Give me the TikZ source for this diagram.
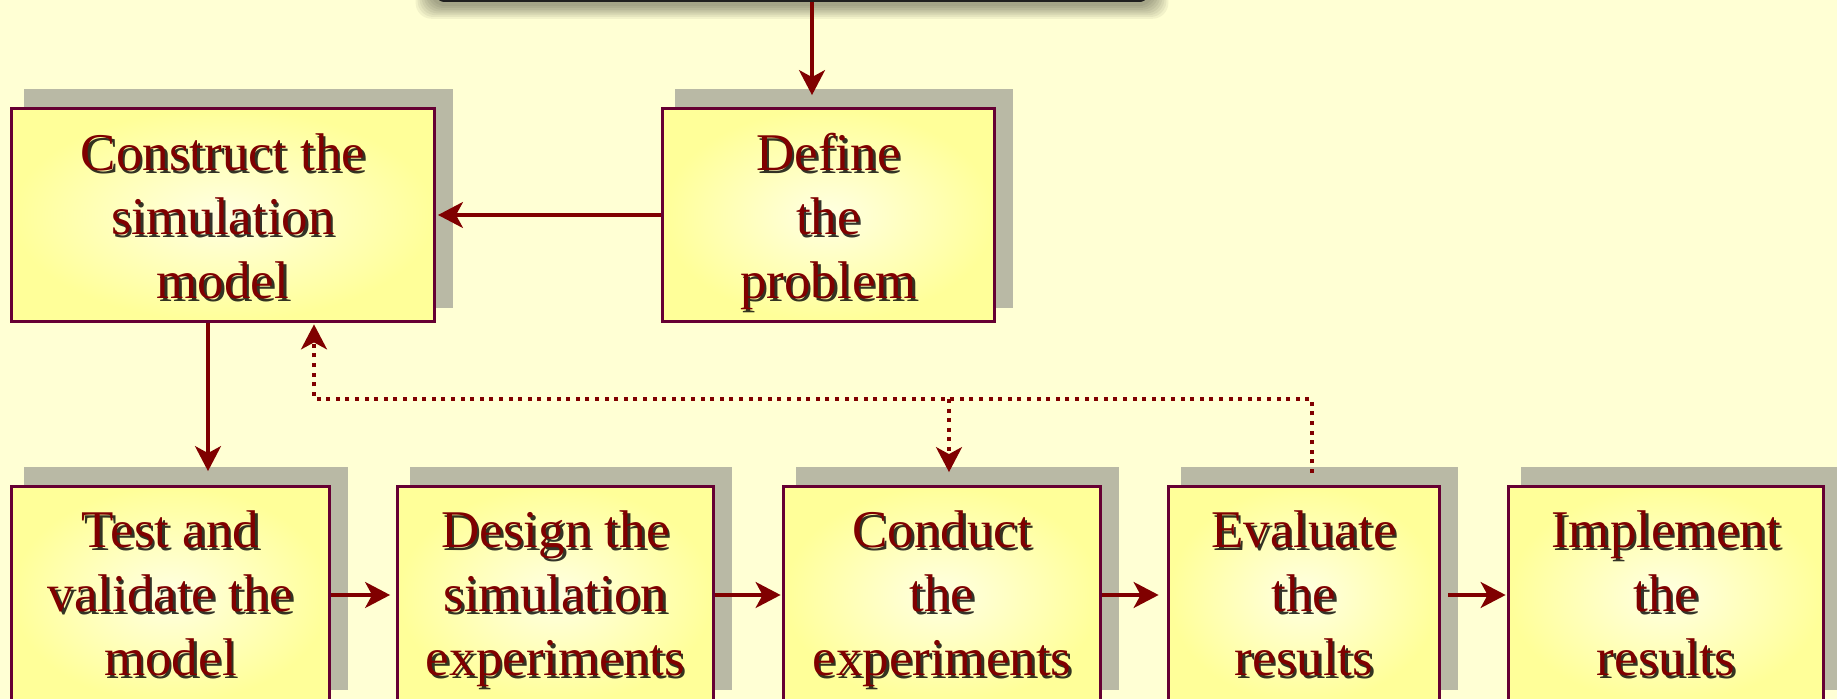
\documentclass[tikz,border=0pt]{standalone}
\usepackage{fontspec}
\setmainfont{Liberation Serif}
\usetikzlibrary{arrows.meta,calc,shadows}
\definecolor{bgc}{HTML}{FFFFD4}
\definecolor{shc}{HTML}{B9B9A5}
\definecolor{bdc}{HTML}{660033}
\definecolor{arc}{HTML}{800000}
\definecolor{txc}{HTML}{800000}
\definecolor{fin}{HTML}{FFFFE2}
\definecolor{fout}{HTML}{FFFF99}
\newcommand\boxlabel[4]{%
  \node[txtsh] (#1sh) at (#2+2.5,#3+2.5) {#4};
  \node[txt] (#1tx) at (#2,#3) {#4};}
\begin{document}
\begin{tikzpicture}[x=0.5pt,y=-0.5pt,
  stepbox/.style={rectangle, draw=bdc, line width=1.9pt, inner color=fin, outer color=fout,
    inner sep=0pt,
    drop shadow={shadow xshift=7.75pt, shadow yshift=8.25pt, fill=shc, draw=shc, line width=3pt, opacity=1}},
  toprow/.style={stepbox, minimum height=106.5pt},
  botrow/.style={stepbox, minimum height=108.5pt},
  topbox/.style={rectangle, fill=black!88, rounded corners=7pt, minimum width=360pt, minimum height=42pt, inner sep=0pt},
  txt/.style={text=txc, align=center, font=\fontsize{26.5}{32}\selectfont, inner sep=0pt},
  txtsh/.style={txt, text=black, text opacity=0.8},
  arr/.style={draw=arc, line width=1.6pt, -{Stealth[length=12.5pt,width=13pt,inset=3.5pt]}},
  dotarr/.style={arr, dash pattern=on 2pt off 2.8pt}
]
\useasboundingbox (0,0) rectangle (1837,699);
\clip (0,0) rectangle (1837,699);
\fill[bgc] (0,0) rectangle (1837,699);

% top box (cut off) with soft shadow
\node[topbox] (top) at (792,-40) {};
\foreach \i in {1,...,8}
  \fill[black, opacity=0.05, rounded corners=8pt]
    ($(top.north west)+(-2*\i,0)$) rectangle ($(top.south east)+(2*\i,2+1.8*\i)$);
\node[topbox] (top2) at (792,-40) {};

% boxes
\node[toprow, minimum width=211.5pt] (cons) at (223,215) {};
\node[toprow, minimum width=166pt]   (def)  at (828.5,215) {};
\node[botrow, minimum width=159pt]   (test) at (170.5,595) {};
\node[botrow, minimum width=158pt]   (des)  at (555.5,595) {};
\node[botrow, minimum width=158.5pt] (con)  at (942,595) {};
\node[botrow, minimum width=135.5pt] (eva)  at (1304,595) {};
\node[botrow, minimum width=157.5pt] (imp)  at (1666,595) {};

% labels
\boxlabel{cons}{223}{222}{\strut Construct the\\simulation\\model\strut}
\boxlabel{def}{828.5}{222}{\strut Define\\the\\problem\strut}
\boxlabel{test}{170.5}{599}{\strut Test and\\validate the\\model\strut}
\boxlabel{des}{555.5}{599}{\strut Design the\\simulation\\experiments\strut}
\boxlabel{con}{942}{599}{\strut Conduct\\the\\experiments\strut}
\boxlabel{eva}{1304}{599}{\strut Evaluate\\the\\results\strut}
\boxlabel{imp}{1666}{599}{\strut Implement\\the\\results\strut}

% connectors
\coordinate (a1) at (812,0);
\coordinate (a2) at (208,0);
\draw[arr, shorten >=5.75pt] (top.south -| a1) -- (def.north -| a1);
\draw[arr, shorten >=0.8pt] (def.west) -- (cons.east);
\draw[arr, shorten >=6.75pt] (cons.south -| a2) -- (test.north -| a2);
\draw[arr, shorten >=2.75pt] (test.east) -- (des.west);
\draw[arr, shorten >=0.5pt] (des.east) -- (con.west);
\draw[arr, shorten >=4pt] (con.east) -- (eva.west);
\draw[arr, shorten <=3.5pt, shorten >=0.5pt] (eva.east) -- (imp.west);

% dotted feedback
\coordinate (j1) at (1312,399);
\coordinate (j2) at (314,399);
\coordinate (j3) at (949,399);
\draw[dotarr, shorten <=5.75pt, shorten >=0.5pt] (eva.north -| j1) -- (j1) -- (j2) -- (cons.south -| j2);
\draw[dotarr, shorten >=6.25pt] (j3) -- (con.north -| j3);
\end{tikzpicture}
\end{document}
